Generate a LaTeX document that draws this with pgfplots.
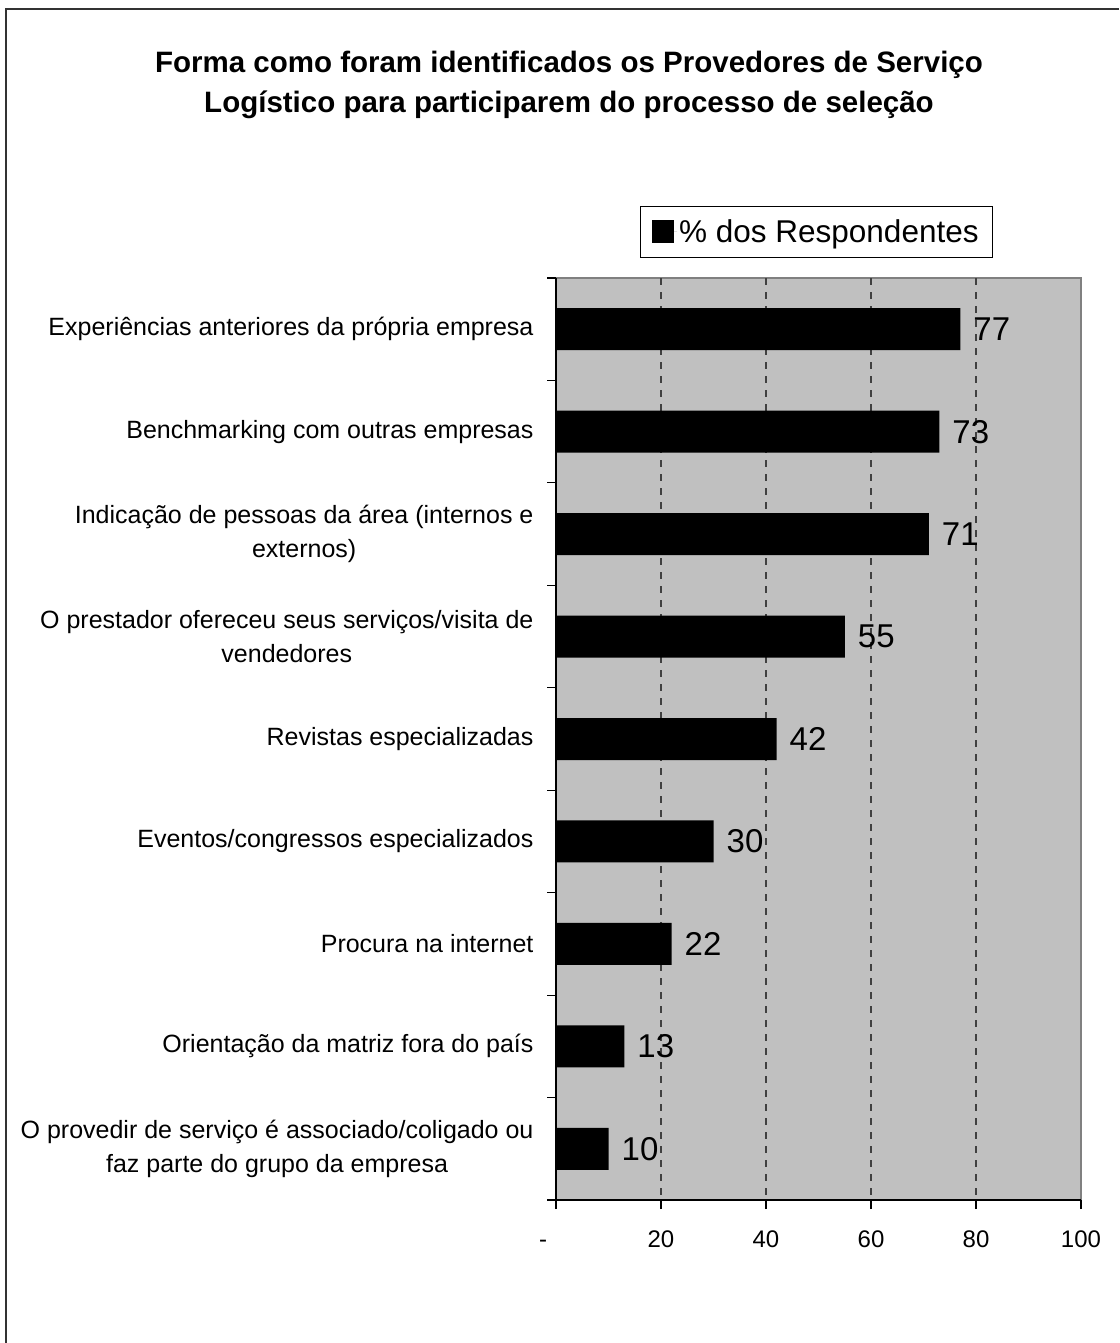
\documentclass[border=0pt]{standalone}
\usepackage{fontspec}
\setmainfont{Liberation Sans}
\usepackage{pgfplots}
\pgfplotsset{compat=1.18}
\definecolor{plotgray}{HTML}{C0C0C0}
\definecolor{bordergray}{HTML}{808080}
\definecolor{gridgray}{HTML}{404040}
\begin{document}
\begin{tikzpicture}[x=1pt,y=1pt]
\path[use as bounding box] (0pt,0pt) rectangle (1119pt,1343pt);
\draw[line width=1.3pt, black!80] (6pt,0pt) -- (6pt,1334pt) -- (1119pt,1334pt);
\node[font=\fontsize{29.5}{40}\selectfont\bfseries, align=center] at (569pt,1258pt)
  {Forma como foram identificados os Provedores de Serviço\\Logístico para participarem do processo de seleção};
\begin{axis}[
  at={(556pt,143pt)}, anchor=south west,
  scale only axis, width=525pt, height=922pt,
  xbar, bar width=42pt,
  xmin=0, xmax=100, ymin=0.5, ymax=9.5, y dir=reverse,
  axis lines*=left,
  axis line style={line width=1.5pt, black},
  axis background/.style={fill=plotgray, draw=bordergray, line width=1.2pt},
  /pgf/number format/assume math mode=true,
  xtick={0,20,40,60,80,100},
  xticklabels={{\vphantom{0}-\kern26pt},20,40,60,80,100},
  extra x ticks={20,40,60,80}, extra x tick labels={},
  extra x tick style={grid=major},
  major grid style={gridgray, line width=1.1pt, dash pattern=on 7pt off 7pt},
  major tick length=0pt,
  minor xtick={0,20,...,100}, minor ytick={0.5,1.5,...,9.5},
  minor tick length=9pt, tick align=outside,
  minor tick style={line width=1.2pt, black},
  xticklabel style={font=\fontsize{24}{29}\selectfont, yshift=-27pt},
  ytick={1,...,9},
  yticklabels={
    {Experiências anteriores da própria empresa},
    {Benchmarking com outras empresas},
    {Indicação de pessoas da área (internos e\\externos)},
    {O prestador ofereceu seus serviços/visita de\\vendedores},
    {Revistas especializadas},
    {Eventos/congressos especializados},
    {Procura na internet},
    {Orientação da matriz fora do país},
    {O provedir de serviço é associado/coligado ou\\faz parte do grupo da empresa}},
  yticklabel style={font=\fontsize{25}{34}\selectfont, align=center, xshift=-19pt},
  nodes near coords,
  every node near coord/.append style={font=\fontsize{33}{38}\selectfont, anchor=west, xshift=13pt, inner sep=0pt, black},
  legend style={at={(0.496,1.05)}, anchor=center, draw=black, line width=0.8pt,
    font=\fontsize{31.5}{36}\selectfont, inner xsep=11.5pt, inner ysep=11.5pt},
  legend image code/.code={\fill[black] (0pt,-11.5pt) rectangle (22pt,11.5pt);
    \path (0pt,0pt) -- (25pt,0pt);},
]
\addplot[fill=black, draw=none] coordinates {(77,1) (73,2) (71,3) (55,4) (42,5) (30,6) (22,7) (13,8) (10,9)};
\addlegendentry{\% dos Respondentes}
\end{axis}
\end{tikzpicture}
\end{document}
